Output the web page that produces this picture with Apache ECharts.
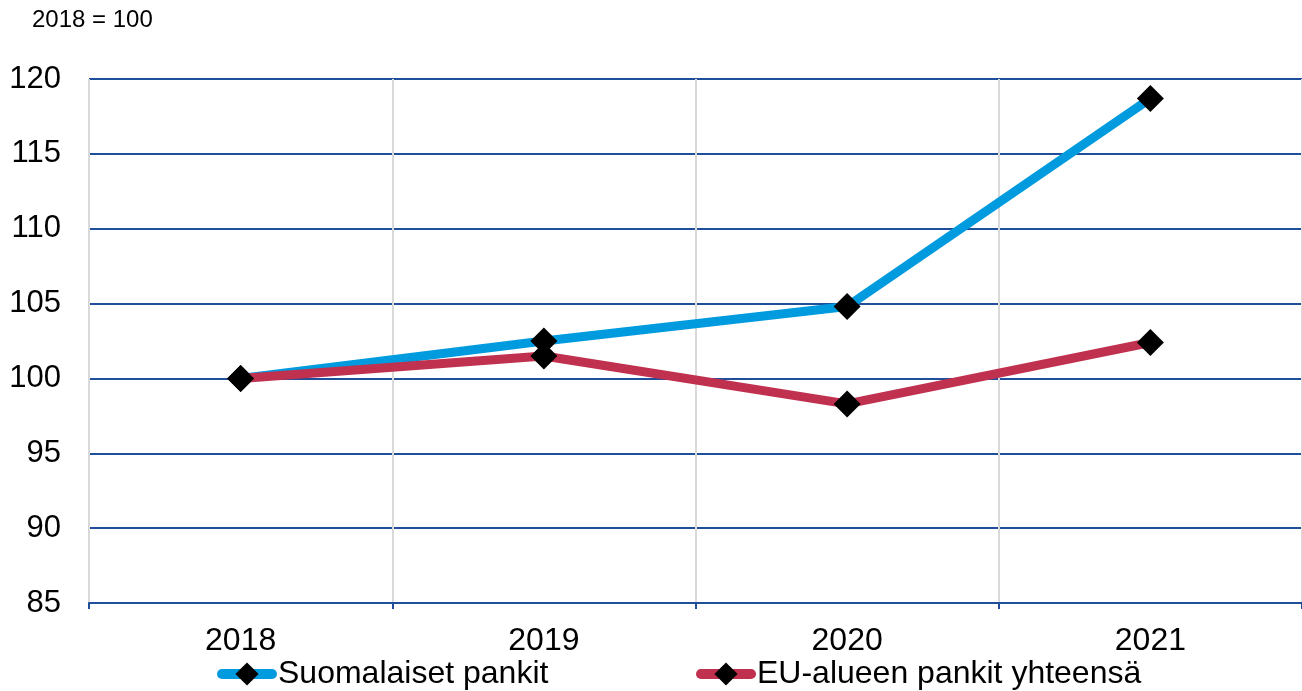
<!DOCTYPE html>
<html><head><meta charset="utf-8">
<script src="https://cdn.jsdelivr.net/npm/echarts@6/dist/echarts.min.js"></script>
<style>html,body{margin:0;padding:0;background:#fff}#c{width:1302px;height:691px}</style>
</head><body><div id="c"></div>
<script>
const categories = ['2018', '2019', '2020', '2021'];
const suomalaiset = [100, 102.5, 104.8, 118.7];
const euAlue = [100, 101.5, 98.3, 102.4];
const seriesNames = ['Suomalaiset pankit', 'EU-alueen pankit yhteensä'];
const unitLabel = '2018 = 100';

const chart = echarts.init(document.getElementById('c'), null, {renderer: 'canvas'});
const font = 'Liberation Sans, Arial, sans-serif';
const legendCommon = {itemWidth: 50, itemHeight: 29, itemGap: 0, padding: 0,
  lineStyle: {width: 10, cap: 'round'},
  textStyle: {fontSize: 32, fontFamily: font, color: '#000', padding: [0,0,0,1]}};
chart.setOption({
  animation: false,
  backgroundColor: '#fff',
  graphic: [{type: 'text', left: 32, top: 8, style: {text: unitLabel, font: '24px ' + font, fill: '#000'}}],
  grid: {left: 89, right: -3, top: 79, bottom: 88, containLabel: false},
  legend: [
    Object.assign({data: [seriesNames[0]], left: 217, top: 658}, legendCommon),
    Object.assign({data: [seriesNames[1]], left: 696, top: 658}, legendCommon)
  ],
  xAxis: {
    type: 'category', data: categories, boundaryGap: true,
    axisLine: {show: true, lineStyle: {color: '#1F4E9A', width: 2}},
    axisTick: {show: true, interval: 0, length: 6, lineStyle: {color: '#1F4E9A', width: 2}},
    axisLabel: {fontSize: 32, fontFamily: font, color: '#000', margin: 22},
    splitLine: {show: true, interval: 0, lineStyle: {color: '#D9D9D9', width: 2}}
  },
  yAxis: {
    type: 'value', min: 85, max: 120, interval: 5,
    axisLine: {show: false}, axisTick: {show: false},
    axisLabel: {fontSize: 31, fontFamily: font, color: '#000', margin: 28},
    splitLine: {show: true, lineStyle: {color: '#1F4E9A', width: 2}}
  },
  series: [
    {name: seriesNames[0], type: 'line', data: suomalaiset, z: 3,
     lineStyle: {color: '#009BDE', width: 9}, itemStyle: {color: '#000'},
     symbol: 'diamond', symbolSize: 27, showAllSymbol: true},
    {name: seriesNames[1], type: 'line', data: euAlue, z: 4,
     lineStyle: {color: '#C0304F', width: 9}, itemStyle: {color: '#000'},
     symbol: 'diamond', symbolSize: 27, showAllSymbol: true}
  ]
});
</script></body></html>
